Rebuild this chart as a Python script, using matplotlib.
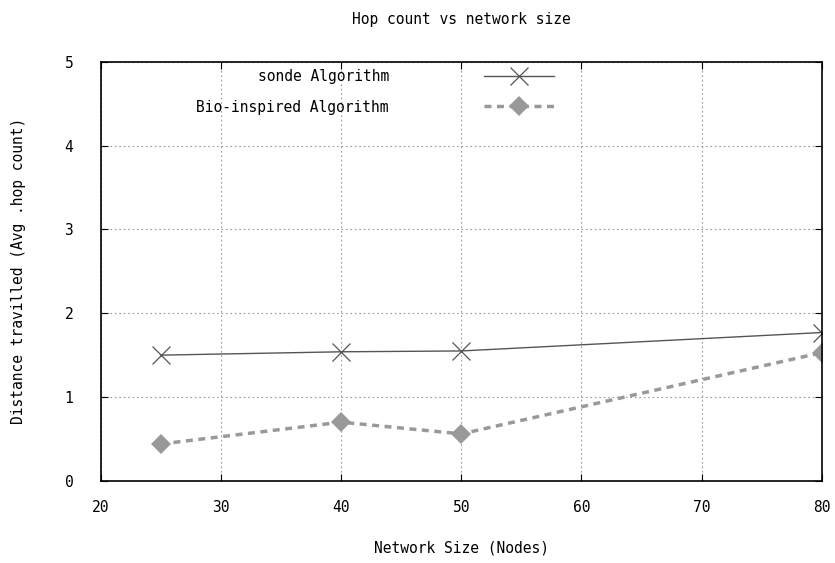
import matplotlib
matplotlib.use("Agg")
import matplotlib.pyplot as plt

# network size (nodes)
nodes = [25, 40, 50, 80]
# average hop count
sonde = [1.50, 1.54, 1.55, 1.77]
bio = [0.44, 0.70, 0.56, 1.53]

plt.rcParams['font.family'] = ['DejaVu Sans Mono']

fig = plt.figure(figsize=(8.35, 5.63), dpi=100)
ax = fig.add_axes([0.121, 0.146, 0.863, 0.744])

ax.plot(nodes, sonde, color='#555555', lw=1, marker='x', markersize=13,
        markeredgewidth=0.9, label='sonde Algorithm')
ax.plot(nodes, bio, color='#999999', lw=2.5, ls=(0, (2, 1.6)), marker='D',
        markersize=10, markeredgewidth=0, label='Bio-inspired Algorithm')

ax.set_xlim(20, 80)
ax.set_ylim(0, 5)
ax.set_xticks(range(20, 81, 10))
ax.set_yticks(range(0, 6))
ax.tick_params(direction='in', top=True, right=True, labelsize=10.5, length=5)
ax.tick_params(axis='y', pad=20)
ax.tick_params(axis='x', pad=14)
ax.grid(True, ls=(0, (1.5, 2.5)), color='#999999', lw=0.8)
for s in ax.spines.values():
    s.set_linewidth(1.2)

ax.set_title('Hop count vs network size', fontsize=10.5, pad=27)
ax.set_xlabel('Network Size (Nodes)', fontsize=10.5, labelpad=18)
ax.set_ylabel('Distance travilled (Avg .hop count)', fontsize=10.5, labelpad=28)

ax.legend(loc='upper left', bbox_to_anchor=(0.114, 1.014), frameon=False,
          markerfirst=False, fontsize=10.5, handlelength=4.8,
          handletextpad=6.5, labelspacing=1.05)

fig.savefig('out.png')
